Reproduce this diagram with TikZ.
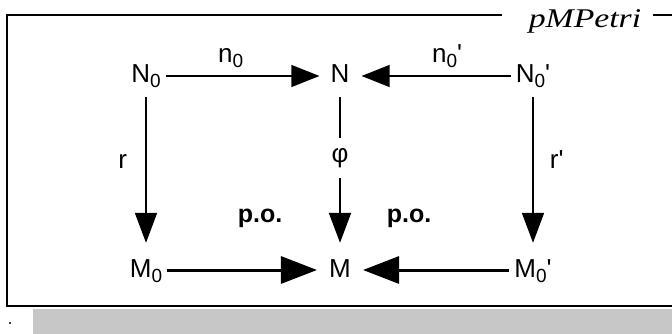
\documentclass[tikz,border=0pt]{standalone}
\usepackage{fontspec}
\newfontfamily\diagfont{Liberation Sans}
\newfontfamily\titlefont{Liberation Serif}
\usetikzlibrary{arrows.meta}

\newcommand{\lowidx}[1]{\raisebox{-5pt}{\fontsize{19}{19}\selectfont #1}}

\tikzset{
  obj/.style={font=\diagfont\fontsize{26}{30}\selectfont, text height=19pt, text depth=5pt, inner sep=2pt, anchor=base},
  lbl/.style={font=\diagfont\fontsize{26}{30}\selectfont, inner sep=3pt},
  pushout/.style={font=\diagfont\bfseries\fontsize{25}{30}\selectfont},
  toparrow/.style={-{Triangle[length=28pt,width=22pt]}, line width=1.3pt},
  downarrow/.style={-{Triangle[length=30pt,width=22pt]}, line width=1.8pt},
  botarrow/.style={-{Triangle[length=36pt,width=27pt]}, line width=3pt}
}

\begin{document}
\begin{tikzpicture}[x=1pt, y=-1pt]
  \useasboundingbox (0,0) rectangle (672,334);
  % shaded strip below the frame
  \fill[black!22] (33,309) rectangle (672,334);
  \fill (10,323) circle (1.2pt);
  % frame with title
  \draw[line width=2.2pt] (502,15) -- (7,15) -- (7,306) -- (672,306);
  \draw[line width=2.2pt] (653,15) -- (672,15);
  \node[font=\titlefont\itshape\fontsize{27}{30}\selectfont, anchor=base] (title) at (585,28) {\scalebox{1.25}[1]{pMPetri}};

  % objects
  \node[obj] (N0) at (146,83) {N\lowidx{0}};
  \node[obj] (N) at (340,83) {N};
  \node[obj] (N0p) at (533,83) {N\lowidx{0}'};
  \node[obj] (M0) at (146,277) {M\lowidx{0}};
  \node[obj] (M) at (340,277) {M};
  \node[obj] (M0p) at (533,277) {M\lowidx{0}'};

  % morphisms
  \draw[toparrow, shorten <=3pt, shorten >=9pt] (N0) -- (N)
    node[lbl, pos=0.41, above=5pt] (n0) {n\lowidx{0}};
  \draw[toparrow, shorten <=3pt, shorten >=10pt] (N0p) -- (N)
    node[lbl, pos=0.41, above=5pt] (n0p) {n\lowidx{0}'};
  \draw[downarrow, shorten <=7pt, shorten >=13pt] (N0) -- (M0)
    node[lbl, pos=0.43, left=15pt] (r) {r};
  \draw[downarrow, shorten <=7pt, shorten >=13pt] (N0p) -- (M0p)
    node[lbl, pos=0.42, right=13pt] (rp) {r'};
  \draw[downarrow, shorten <=7pt, shorten >=13pt] (N) -- (M)
    node[lbl, pos=0.41, fill=white, inner ysep=10pt] (phi) {φ};
  \draw[botarrow, shorten <=3pt, shorten >=10pt] (M0) -- (M);
  \draw[botarrow, shorten <=3pt, shorten >=10pt] (M0p) -- (M);

  % pushout marks
  \node[pushout] (po1) at (260,218) {p.o.};
  \node[pushout] (po2) at (409,218) {p.o.};
\end{tikzpicture}
\end{document}
